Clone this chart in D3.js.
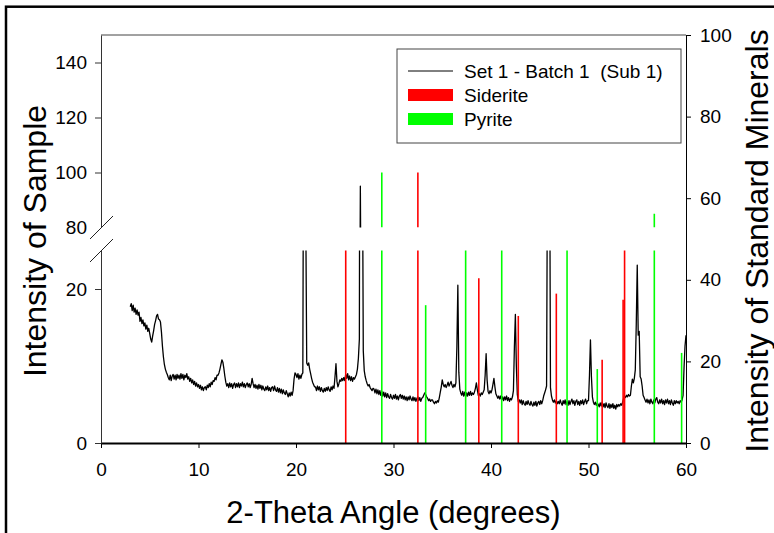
<!DOCTYPE html>
<html>
<head>
<meta charset="utf-8">
<script src="https://cdn.jsdelivr.net/npm/d3@7"></script>
<style>
  body { margin: 0; background: #fff; }
  text { font-family: "Liberation Sans", Arial, sans-serif; fill: #000; }
</style>
</head>
<body>
<script>
// Sample trace: intensity every 0.1 degree, from 3.0 to 60.0
const sampleStart = 3.0;
const sampleStep = 0.1;
const sampleIntensity = [
  17.7,18.1,17.2,17.9,17.0,17.5,16.7,17.3,16.6,17.0,   // 3
  15.8,16.3,15.5,16.0,15.2,15.6,14.8,15.3,14.5,14.9,   // 4
  14.2,13.5,13.1,13.9,14.6,15.4,15.9,16.5,16.7,16.1,   // 5
  16.0,15.7,14.4,12.6,11.2,10.2,9.6,9.2,8.9,8.5,       // 6
  8.2,8.8,8.1,8.7,8.9,8.3,8.8,8.2,8.9,8.4,             // 7
  8.8,8.3,9.0,8.4,8.9,8.2,8.8,8.5,9.0,8.3,             // 8
  8.6,8.0,8.4,7.8,8.2,7.6,8.0,7.4,7.8,7.3,             // 9
  7.6,7.1,7.5,6.9,7.3,6.8,7.2,7.3,6.9,7.5,             // 10
  7.2,7.7,7.3,7.9,7.6,8.1,8.0,8.5,8.2,8.8,             // 11
  8.8,9.1,9.6,10.2,10.8,10.5,9.7,8.7,7.9,7.4,          // 12
  7.7,7.2,7.8,7.3,7.7,7.1,7.6,7.8,7.2,7.7,             // 13
  7.3,7.8,7.2,7.7,7.4,7.9,7.3,7.7,7.2,7.6,             // 14
  7.8,7.3,7.7,7.2,7.6,8.4,7.7,7.2,7.6,7.1,             // 15
  7.5,7.0,7.6,7.1,7.5,6.9,7.4,7.0,6.8,7.3,             // 16
  6.9,7.4,6.8,7.2,6.7,7.2,7.3,6.8,7.4,6.9,             // 17
  6.7,7.2,6.6,7.1,6.5,7.0,6.4,6.9,6.5,6.3,             // 18
  6.8,6.4,6.0,6.5,6.1,6.6,6.2,6.8,8.3,9.1,             // 19
  8.9,8.5,9.0,8.3,8.8,8.4,8.9,9.1,55,58,               // 20
  30,10.4,10.1,10.4,9.6,9.0,8.4,7.9,7.6,7.3,           // 21
  7.3,6.8,7.4,6.9,7.3,6.7,7.2,6.8,6.6,7.1,             // 22
  6.7,7.2,6.8,7.3,6.9,6.7,7.3,6.9,7.4,7.1,             // 23
  8.6,10.3,8.0,7.3,7.7,8.2,8.0,8.4,8.1,8.5,            // 24
  8.1,8.9,8.4,9.0,8.2,8.7,8.1,8.6,8.0,8.5,             // 25
  8.3,8.6,8.9,9.6,11.0,13.5,95,32,42,12,               // 26
  9.4,8.6,8.1,7.7,7.4,7.6,7.2,7.0,6.8,7.1,             // 27
  7.0,6.5,7.0,6.4,6.9,6.3,6.8,6.2,6.7,6.1,             // 28
  6.6,6.0,6.5,5.9,6.4,6.0,5.8,6.3,5.9,5.7,             // 29
  6.2,5.8,6.3,5.7,6.1,5.6,6.1,6.3,5.8,6.2,             // 30
  5.7,6.1,5.6,6.0,5.5,6.0,5.6,6.1,5.7,5.5,             // 31
  6.0,5.5,5.9,5.4,5.8,6.0,5.5,5.9,5.4,5.8,             // 32
  5.9,6.2,6.5,6.3,6.0,5.8,5.5,5.7,5.4,5.6,             // 33
  5.6,5.3,5.1,5.4,5.2,5.5,5.3,5.9,6.6,7.3,             // 34
  8.2,7.6,7.3,7.6,7.2,7.5,7.9,7.4,7.7,8.0,             // 35
  7.5,7.2,7.6,7.3,7.8,12.5,20.5,9.2,7.0,6.5,           // 36
  6.2,6.7,6.1,6.6,6.0,6.5,6.1,6.6,6.2,6.7,             // 37
  6.2,6.5,6.3,6.6,7.1,7.8,6.9,6.2,6.4,6.1,             // 38
  6.5,6.3,6.6,6.9,8.8,11.6,8.2,6.7,6.4,6.8,            // 39
  6.5,6.9,7.6,8.4,7.3,6.4,6.1,5.8,6.1,5.7,             // 40
  6.1,5.6,6.0,5.5,6.0,5.6,6.1,5.5,5.9,5.4,             // 41
  5.8,5.6,6.0,6.8,12.5,16.7,10.0,6.3,5.4,5.6,          // 42
  5.2,5.6,5.0,5.5,5.1,4.9,5.4,5.0,5.5,5.1,             // 43
  4.9,5.4,5.0,4.8,5.3,4.9,5.4,4.8,5.2,5.4,             // 44
  5.0,5.5,5.1,5.5,6.1,6.5,6.9,7.4,40,60,               // 45
  45,7.2,6.1,5.6,5.3,5.6,5.2,5.5,5.1,5.4,              // 46
  5.1,5.6,5.2,4.9,5.5,5.1,5.6,5.0,5.4,4.9,             // 47
  5.5,5.0,5.4,5.7,5.1,5.5,4.9,5.4,5.6,5.0,             // 48
  5.4,4.9,5.5,5.1,5.6,5.0,5.4,5.7,5.1,5.5,             // 49
  5.5,8.8,13.4,8.6,6.0,5.3,5.0,5.3,4.9,5.2,            // 50
  5.0,4.7,5.2,4.8,5.3,4.7,5.1,4.6,5.2,4.8,             // 51
  4.6,5.1,4.5,5.0,4.6,5.1,4.5,4.9,4.4,5.0,             // 52
  4.7,5.0,4.8,5.1,4.9,5.3,5.8,6.1,5.9,6.2,             // 53
  6.0,6.3,6.1,6.2,7.4,8.3,7.8,8.4,9.5,15.5,            // 54
  23.1,14.0,14.5,8.6,8.3,7.4,6.2,5.9,5.6,5.3,          // 55
  5.7,5.2,5.6,5.1,5.7,5.3,5.1,5.6,5.2,5.7,             // 56
  5.9,5.3,5.1,5.6,5.2,5.7,5.1,5.5,5.0,5.6,             // 57
  5.2,5.7,5.1,5.5,5.0,5.6,5.2,4.9,5.5,5.1,             // 58
  5.5,5.2,5.4,5.1,5.5,5.3,5.6,6.2,9.8,12.6,            // 59
  14.0                                                 // 60
];

// Standard mineral stick patterns
const sideriteAngles    = [25.1, 32.5, 38.75, 42.8, 46.7, 51.4, 53.55, 53.7];
const sideriteIntensity = [45, 100, 21.4, 16.5, 19.4, 10.8, 18.6, 45];
const pyriteAngles      = [28.8, 33.3, 37.4, 41.1, 47.8, 50.9, 56.75, 59.55];
const pyriteIntensity   = [100, 17.9, 50, 50, 50, 9.6, 85, 11.7];

const xTicks = [0, 10, 20, 30, 40, 50, 60];
const lowerTicks = [0, 20];
const upperTicks = [80, 100, 120, 140];
const rightTicks = [0, 20, 40, 60, 80, 100];

const legendLabels = ["Set 1 - Batch 1  (Sub 1)", "Siderite", "Pyrite"];
const RED = "#ff0000", GREEN = "#00ff00";

// Scales (left axis is broken: 0-25 below, 80-150 above)
const x = d3.scaleLinear().domain([0, 60]).range([101, 686]);
const yLow = d3.scaleLinear().domain([0, 25]).range([443, 250.5]);
const yUp = d3.scaleLinear().domain([80, 150]).range([227.5, 35]);
const yRight = d3.scaleLinear().domain([0, 100]).range([443, 35]);

const sample = sampleIntensity.map((v, i) => ({ a: sampleStart + i * sampleStep, v: v }));

const svg = d3.select("body").append("svg")
    .attr("width", 774)
    .attr("height", 533);

// outer frame (only left and top edges fall inside the picture)
svg.append("rect")
    .attr("x", 6).attr("y", 6.7)
    .attr("width", 1000).attr("height", 1000)
    .attr("fill", "none")
    .attr("stroke", "#000")
    .attr("stroke-width", 2.5);

const defs = svg.append("defs");
defs.append("clipPath").attr("id", "clipLow").append("rect")
    .attr("x", x(0)).attr("y", yLow(25))
    .attr("width", x(60) - x(0)).attr("height", yLow(0) - yLow(25));
defs.append("clipPath").attr("id", "clipUp").append("rect")
    .attr("x", x(0)).attr("y", yUp(150))
    .attr("width", x(60) - x(0)).attr("height", yUp(80) - yUp(150));

// sample trace in both segments
const segments = [{ y: yLow, clip: "clipLow" }, { y: yUp, clip: "clipUp" }];
segments.forEach(seg => {
    const g = svg.append("g").attr("clip-path", `url(#${seg.clip})`);
    g.append("path")
        .datum(sample)
        .attr("fill", "none")
        .attr("stroke", "#000")
        .attr("stroke-width", 1.3)
        .attr("stroke-linejoin", "round")
        .attr("d", d3.line().x(d => x(d.a)).y(d => seg.y(d.v)));

    const sticks = [
        { angles: sideriteAngles, vals: sideriteIntensity, color: RED },
        { angles: pyriteAngles, vals: pyriteIntensity, color: GREEN }
    ];
    sticks.forEach(s => {
        const base = seg.y.domain()[0];
        g.selectAll(null)
            .data(s.angles.map((a, i) => ({ a: a, v: s.vals[i] })).filter(d => d.v > base))
            .enter().append("line")
            .attr("x1", d => x(d.a)).attr("x2", d => x(d.a))
            .attr("y1", seg.y(base))
            .attr("y2", d => seg.y(d.v))
            .attr("stroke", s.color)
            .attr("stroke-width", 1.6);
    });
});

// top frame line
svg.append("line")
    .attr("x1", x(0)).attr("x2", x(60))
    .attr("y1", yUp(150)).attr("y2", yUp(150))
    .attr("stroke", "#444").attr("stroke-width", 1);

function styleAxis(g, color) {
    g.selectAll("text")
        .style("font-size", "19px")
        .style("font-family", "'Liberation Sans', Arial, sans-serif")
        .attr("fill", "#000");
    g.selectAll("line").attr("stroke", color);
    g.select(".domain").attr("stroke", color);
}

// bottom axis
const xAxisG = svg.append("g")
    .attr("transform", `translate(0,${yLow(0)})`)
    .call(d3.axisBottom(x).tickValues(xTicks).tickSize(5).tickPadding(15).tickSizeOuter(0));
styleAxis(xAxisG, "#000");
xAxisG.select(".domain").attr("stroke-width", 2);

// left axis, lower part
const lowG = svg.append("g")
    .attr("transform", `translate(${x(0)},0)`)
    .call(d3.axisLeft(yLow).tickValues(lowerTicks).tickSize(6).tickPadding(8).tickSizeOuter(0));
styleAxis(lowG, "#333");

// left axis, upper part
const upG = svg.append("g")
    .attr("transform", `translate(${x(0)},0)`)
    .call(d3.axisLeft(yUp).tickValues(upperTicks).tickSize(6).tickPadding(8).tickSizeOuter(0));
styleAxis(upG, "#333");
upG.selectAll(".tick").filter(d => d === 80).select("line").remove();

// break marks
[yUp(80), yLow(25)].forEach(yb => {
    svg.append("line")
        .attr("x1", x(0) - 11).attr("y1", yb + 11.5)
        .attr("x2", x(0) + 12).attr("y2", yb - 11.5)
        .attr("stroke", "#222").attr("stroke-width", 1);
});

// right axis
const rightG = svg.append("g")
    .attr("transform", `translate(${x(60)},0)`)
    .call(d3.axisRight(yRight).tickValues(rightTicks).tickSize(5).tickPadding(9).tickSizeOuter(0));
styleAxis(rightG, "#000");

// axis titles
svg.append("text")
    .attr("x", (x(0) + x(60)) / 2).attr("y", 523)
    .attr("text-anchor", "middle")
    .style("font-size", "31px")
    .text("2-Theta Angle (degrees)");

svg.append("text")
    .attr("transform", `translate(46,${(yUp(150) + yLow(0)) / 2 + 2}) rotate(-90)`)
    .attr("text-anchor", "middle")
    .style("font-size", "32px")
    .text("Intensity of Sample");

svg.append("text")
    .attr("transform", `translate(768,${(yUp(150) + yLow(0)) / 2 + 2}) rotate(-90)`)
    .attr("text-anchor", "middle")
    .style("font-size", "32px")
    .text("Intensity of Standard Minerals");

// legend
const legend = svg.append("g").attr("transform", "translate(397,49)");
legend.append("rect")
    .attr("width", 284).attr("height", 94)
    .attr("fill", "#fff")
    .attr("stroke", "#444").attr("stroke-width", 1);

const items = legend.selectAll(".legend-item")
    .data(legendLabels)
    .enter().append("g")
    .attr("class", "legend-item")
    .attr("transform", (d, i) => `translate(11,${22 + i * 24})`);

items.filter((d, i) => i === 0).append("line")
    .attr("x1", 0).attr("x2", 45)
    .attr("stroke", "#000").attr("stroke-width", 1);
items.filter((d, i) => i > 0).append("rect")
    .attr("y", -6).attr("width", 45).attr("height", 12)
    .attr("fill", (d, i) => i === 0 ? RED : GREEN);

items.append("text")
    .attr("x", 56).attr("y", 7)
    .style("font-size", "19px")
    .style("white-space", "pre")
    .text(d => d);
</script>
</body>
</html>
